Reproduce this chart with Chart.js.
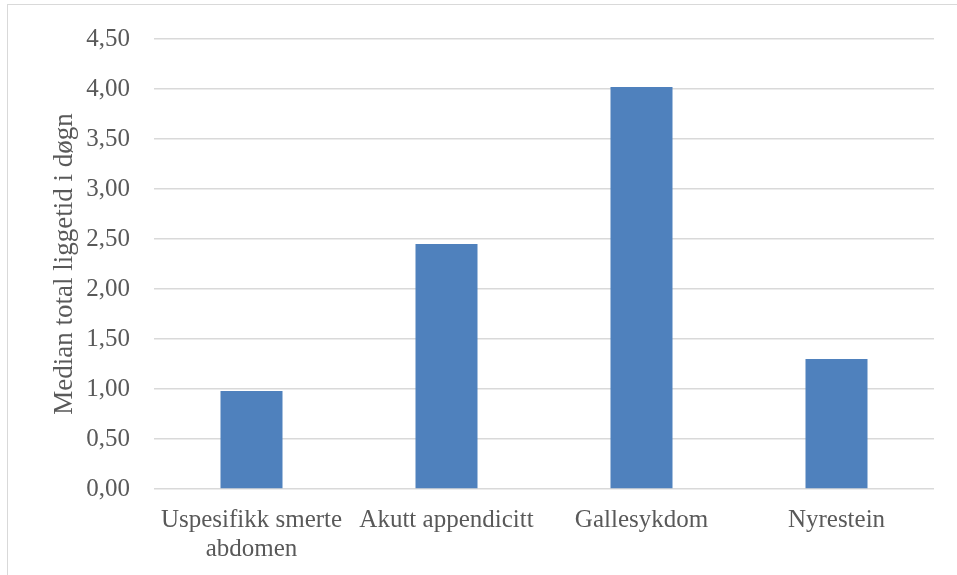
<!DOCTYPE html>
<html>
<head>
<meta charset="utf-8">
<script src="https://cdn.jsdelivr.net/npm/chart.js@4"></script>
<style>
  html, body { margin: 0; padding: 0; background: #ffffff; overflow: hidden; }
  #frame { position: absolute; left: 7px; top: 4px; width: 1200px; height: 1200px; border: 1.5px solid #D9D9D9; box-sizing: border-box; }
  #wrap { position: absolute; left: 0; top: 0; width: 957px; height: 575px; }
</style>
</head>
<body>
<div id="frame"></div>
<div id="wrap"><canvas id="c" width="957" height="575"></canvas></div>
<script>
const categories = [["Uspesifikk smerte", "abdomen"], "Akutt appendicitt", "Gallesykdom", "Nyrestein"];
const medianDays = [0.98, 2.45, 4.02, 1.30];
const yAxisTitle = "Median total liggetid i døgn";
const yMin = 0, yMax = 4.5, yStep = 0.5;

const FONT = "'Liberation Serif', 'Times New Roman', serif";
const TEXT = "#595959";
const GRID = "#D9D9D9";

new Chart(document.getElementById('c'), {
  type: 'bar',
  data: {
    labels: categories,
    datasets: [{
      data: medianDays,
      backgroundColor: '#4F81BD',
      borderWidth: 0,
      barPercentage: 1,
      categoryPercentage: 0.318
    }]
  },
  options: {
    responsive: false,
    animation: false,
    devicePixelRatio: 1,
    layout: { padding: { left: 7, right: 23, top: 38, bottom: 0 } },
    plugins: { legend: { display: false }, tooltip: { enabled: false } },
    scales: {
      x: {
        grid: { display: false, drawTicks: false },
        border: { display: false },
        ticks: {
          color: TEXT,
          font: { family: FONT, size: 25, lineHeight: 1.16 },
          padding: 17,
          maxRotation: 0,
          autoSkip: false
        },
        afterFit: (s) => { s.height = 86; }
      },
      y: {
        min: yMin, max: yMax,
        grid: { color: GRID, lineWidth: 1.5, drawTicks: false },
        border: { display: false },
        ticks: {
          stepSize: yStep,
          color: TEXT,
          font: { family: FONT, size: 25 },
          padding: 24,
          callback: (v) => Number(v).toFixed(2).replace('.', ',')
        },
        title: {
          display: true,
          text: yAxisTitle,
          color: TEXT,
          font: { family: FONT, size: 27, lineHeight: 1.2 },
          padding: { top: 42, bottom: 0 }
        },
        afterFit: (s) => { s.width = 147; }
      }
    }
  }
});
</script>
</body>
</html>
